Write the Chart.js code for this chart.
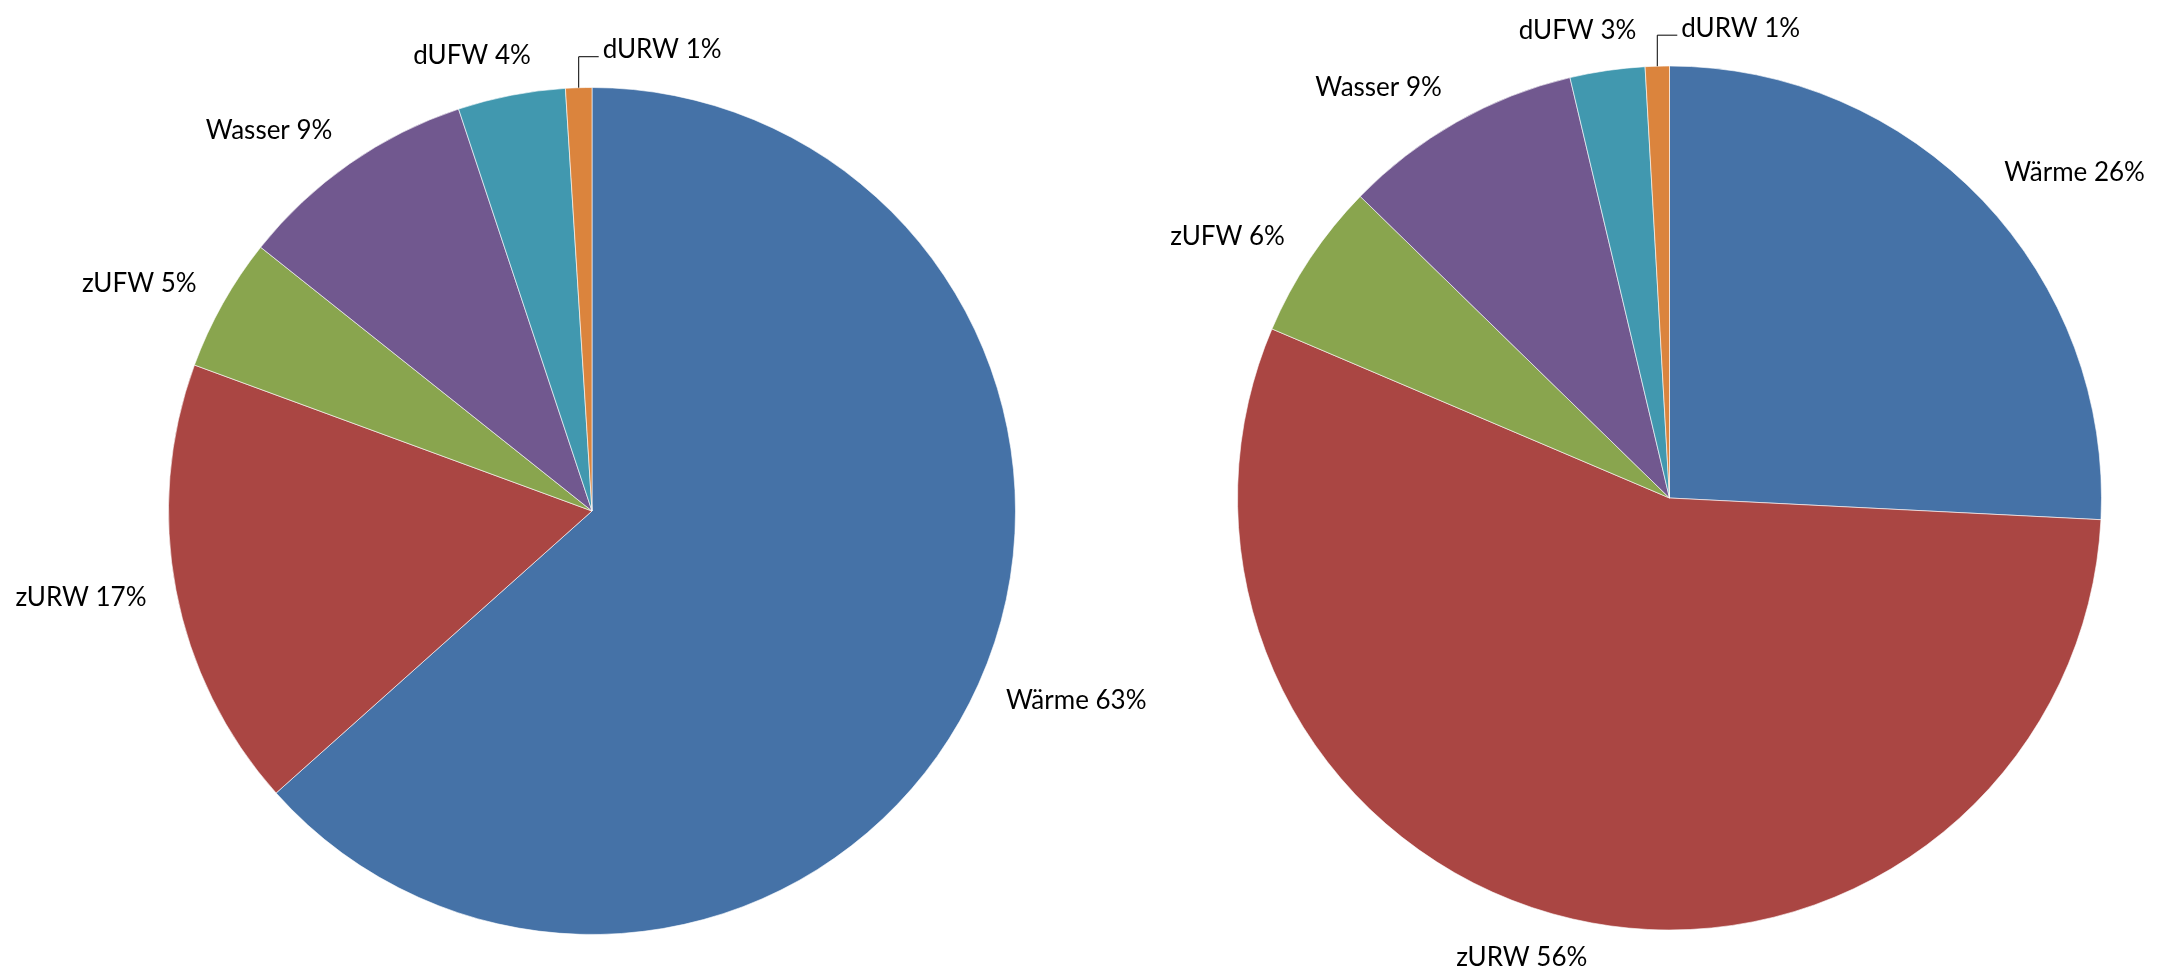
<!DOCTYPE html>
<html>
<head>
<meta charset="utf-8">
<script src="https://cdn.jsdelivr.net/npm/chart.js@4.4.0/dist/chart.umd.min.js"></script>
<style>
html, body { margin:0; padding:0; background:#fff; }
#wrap { position:relative; width:2178px; height:975px; overflow:hidden; }
.box { position:absolute; top:0; height:975px; }
</style>
</head>
<body>
<div id="wrap">
  <div class="box" style="left:0;width:1300px"><canvas id="pie1"></canvas></div>
  <div class="box" style="left:1000px;width:1178px"><canvas id="pie2"></canvas></div>
</div>
<script>
// Kategorien und Anteile (%)
var labels = ['Wärme', 'zURW', 'zUFW', 'Wasser', 'dUFW', 'dURW'];
var werte1 = [63.4, 17.2, 5.1, 9.2, 4.1, 1.0];
var werte2 = [25.8, 55.6, 5.9, 9.0, 2.8, 0.9];
var farben = ['#4572A7', '#AA4643', '#89A54E', '#71588F', '#4198AF', '#DB843D'];

// Beschriftung ausserhalb der Torte (wie Excel)
var beschriftung = {
  id: 'beschriftung',
  afterDatasetsDraw: function(chart) {
    var ctx = chart.ctx;
    var ds = chart.data.datasets[0];
    var summe = ds.data.reduce(function(a, b) { return a + b; }, 0);
    var meta = chart.getDatasetMeta(0);
    ctx.save();
    ctx.font = '26px Lato';
    ctx.fillStyle = '#000';
    ctx.textBaseline = 'middle';
    ctx.textAlign = 'left';
    meta.data.forEach(function(arc, i) {
      var p = arc.getProps(['x', 'y', 'startAngle', 'endAngle', 'outerRadius']);
      var mid = (p.startAngle + p.endAngle) / 2;
      var dx = Math.cos(mid), dy = Math.sin(mid);
      var anteil = ds.data[i] / summe;
      var txt = chart.data.labels[i] + ' ' + Math.round(anteil * 100) + '%';
      var w = ctx.measureText(txt).width;
      if (anteil < 0.02) { // kleines Stueck -> mit Fuehrungslinie
        var px = p.x + p.outerRadius * dx, py = p.y + p.outerRadius * dy;
        var tx = px + 24, ty = py - 38;
        ctx.strokeStyle = '#000';
        ctx.lineWidth = 1;
        ctx.beginPath();
        ctx.moveTo(px, py);
        ctx.lineTo(px, ty + 7);
        ctx.lineTo(tx - 4, ty + 7);
        ctx.stroke();
        ctx.fillText(txt, tx, ty);
        return;
      }
      var R = p.outerRadius + 30;
      var ax = p.x + R * dx, ay = p.y + R * dy;
      var k = Math.max(-1, Math.min(1, dx * 3));
      var left = ax - (0.5 - 0.5 * k) * w;
      ctx.fillText(txt, left, ay + dy * 10);
    });
    ctx.restore();
  }
};

function torte(id, werte, pad) {
  var ctx = document.getElementById(id).getContext('2d');
  return new Chart(ctx, {
    type: 'pie',
    data: {
      labels: labels,
      datasets: [{
        data: werte,
        backgroundColor: farben,
        borderColor: 'rgba(255,255,255,0.6)',
        borderWidth: 1
      }]
    },
    options: {
      responsive: true,
      maintainAspectRatio: false,
      animation: false,
      layout: { padding: pad },
      plugins: {
        legend: { display: false },
        tooltip: { enabled: false }
      }
    },
    plugins: [beschriftung]
  });
}

torte('pie1', werte1, { left: 168, right: 284, top: 87, bottom: 40 });
torte('pie2', werte2, { left: 237, right: 76, top: 65, bottom: 44 });
</script>
</body>
</html>
